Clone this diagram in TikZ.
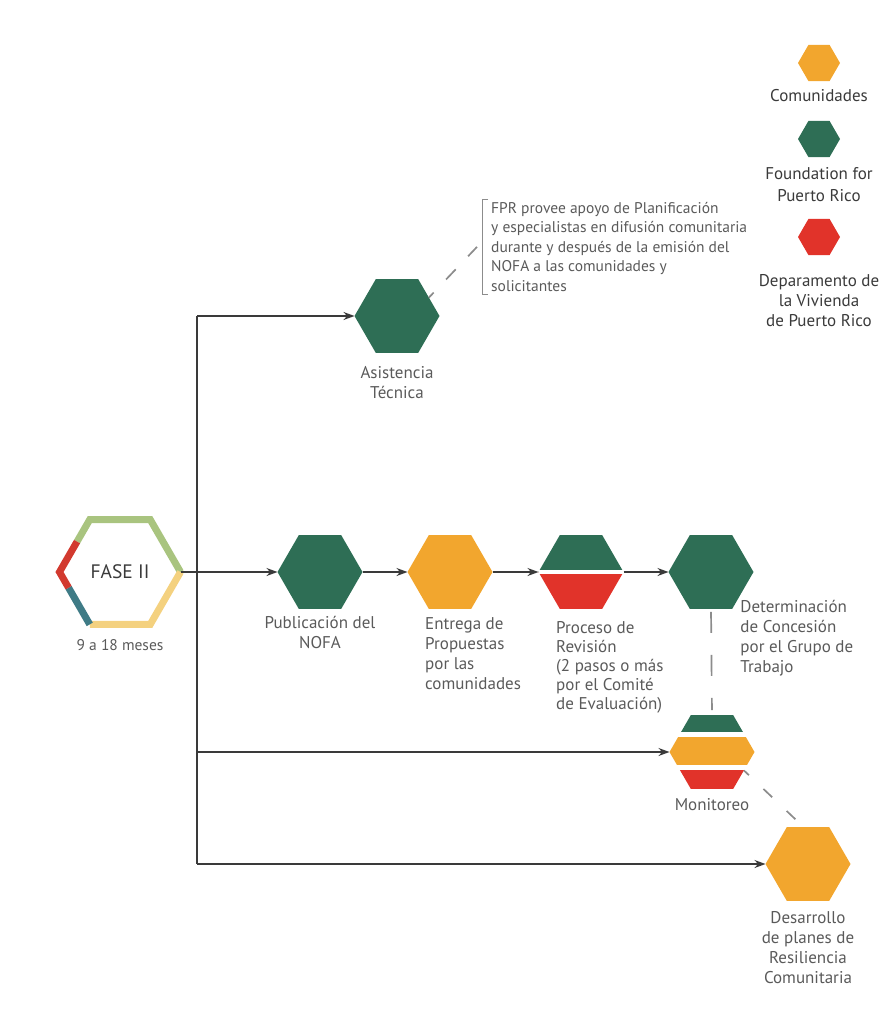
\documentclass[tikz,border=0pt]{standalone}
\usepackage{fontspec}
\setmainfont{PT Sans}
\usetikzlibrary{shapes.geometric,positioning,calc,arrows.meta}

\definecolor{fprgreen}{HTML}{2E6E55}
\definecolor{comorange}{HTML}{F2A62E}
\definecolor{vivred}{HTML}{E1332A}
\definecolor{faselime}{HTML}{A9C47F}
\definecolor{fasesand}{HTML}{F4D17F}
\definecolor{faseteal}{HTML}{3F7B86}
\definecolor{fasered}{HTML}{D23A2F}
\definecolor{txtgray}{HTML}{5A5A5A}
\definecolor{linegray}{HTML}{3A3A3A}
\definecolor{dashgray}{HTML}{8C8C8C}

\tikzset{
  hexa/.style={regular polygon, regular polygon sides=6,
    minimum size=85pt, inner sep=0pt, outer sep=0pt},
  lbl/.style={text=txtgray, font=\fontsize{17}{20}\selectfont, inner sep=0pt},
  leglbl/.style={text=linegray, font=\fontsize{17}{22}\selectfont, inner sep=0pt, align=center},
  flow/.style={draw=linegray, line width=1.3pt},
  arr/.style={flow, -{Stealth[length=11pt,width=8pt]}},
  dashlink/.style={draw=dashgray, line width=1.7pt},
  faseside/.style={line width=7pt},
}

\begin{document}
\begin{tikzpicture}[x=1pt,y=-1pt]
\useasboundingbox (0,0) rectangle (886,1022);

% phase hexagon
\node (fase) [hexa, minimum size=121pt, text=linegray, font=\fontsize{19.5}{24}\selectfont] at (120,572) {FASE II};
\draw[faseside, faselime] ($(fase.corner 3)!0.58!(fase.corner 2)$) -- (fase.corner 2) -- (fase.corner 1) -- (fase.corner 6);
\draw[faseside, fasesand] (fase.corner 6) -- (fase.corner 5) -- (fase.corner 4);
\draw[faseside, faseteal] (fase.corner 4) -- ($(fase.corner 3)!0.3!(fase.corner 4)$);
\draw[faseside, fasered] ($(fase.corner 3)!0.3!(fase.corner 4)$) -- (fase.corner 3) -- ($(fase.corner 3)!0.58!(fase.corner 2)$);
\node (fasetext) [lbl, font=\fontsize{15.5}{20}\selectfont, below=15pt of fase] {9 a 18 meses};

% legend
\node (legcom) [hexa, minimum size=42pt, fill=comorange] at (819,63) {};
\node (legcomtext) [leglbl, below=8pt of legcom] {Comunidades};
\node (legfpr) [hexa, minimum size=42pt, fill=fprgreen] at (819,139) {};
\node (legfprtext) [leglbl, below=10pt of legfpr] {Foundation for\\Puerto Rico};
\node (legviv) [hexa, minimum size=42pt, fill=vivred] at (819,237) {};
\node (legvivtext) [leglbl, font=\fontsize{17}{20}\selectfont, below=19pt of legviv] {Deparamento de\\la Vivienda\\de Puerto Rico};

% steps
\node (asis) [hexa, fill=fprgreen] at (397,316) {};
\node (asistext) [lbl, align=center, below=13pt of asis] {Asistencia\\Técnica};

\node (pub) [hexa, fill=fprgreen] at (320,572) {};
\node (pubtext) [lbl, align=center, below=7pt of pub] {Publicación del\\NOFA};

\node (entr) [hexa, fill=comorange] at (450,572) {};
\node (entrtext) [lbl, align=left, anchor=north west] at ([xshift=-25pt,yshift=-9pt]entr.south) {Entrega de\\Propuestas\\por las\\comunidades};

\node (proc) [hexa] at (581,572) {};
\fill[fprgreen] (proc.corner 3) -- (proc.corner 2) -- (proc.corner 1) -- (proc.corner 6) -- cycle;
\fill[vivred] (proc.corner 3) -- (proc.corner 4) -- (proc.corner 5) -- (proc.corner 6) -- cycle;
\draw[white, line width=4pt] (proc.corner 3) -- (proc.corner 6);
\node (proctext) [lbl, font=\fontsize{17}{19}\selectfont, align=left, anchor=north west] at ([xshift=-25pt,yshift=-12pt]proc.south) {Proceso de\\Revisión\\(2 pasos o más\\por el Comité\\de Evaluación)};

\node (det) [hexa, fill=fprgreen] at (711,572) {};
\node (dettext) [lbl, align=left, anchor=north west] at ([xshift=8pt,yshift=9pt]det.corner 5) {Determinación\\de Concesión\\por el Grupo de\\Trabajo};

\node (mon) [hexa] at (712,752) {};
\begin{scope}
  \clip (mon.corner 1) -- (mon.corner 2) -- (mon.corner 3) -- (mon.corner 4) -- (mon.corner 5) -- (mon.corner 6) -- cycle;
  \fill[fprgreen] ($(mon.center)+(-45,-40)$) rectangle ($(mon.center)+(45,-20)$);
  \fill[comorange] ($(mon.center)+(-45,-15)$) rectangle ($(mon.center)+(45,13)$);
  \fill[vivred] ($(mon.center)+(-45,18)$) rectangle ($(mon.center)+(45,40)$);
\end{scope}
\node (montext) [lbl, below=9pt of mon] {Monitoreo};

\node (des) [hexa, fill=comorange] at (808,864) {};
\node (destext) [lbl, align=center, below=10pt of des] {Desarrollo\\de planes de\\Resiliencia\\Comunitaria};

% note on technical support
\node (fprnote) [anchor=north west, align=left, text=txtgray, inner sep=0pt,
  font=\fontsize{15.5}{19.5}\selectfont] at (491,202) {FPR provee apoyo de Planificación\\y especialistas en difusión comunitaria\\durante y después de la emisión del\\NOFA a las comunidades y\\solicitantes};
\draw[dashgray, line width=1pt] ([xshift=-3pt,yshift=3pt]fprnote.north west) -- ++(-6,0)
  -- ([xshift=-9pt,yshift=-3pt]fprnote.south west) -- ++(6,0);

% connectors
\coordinate (ttop) at (197,316);
\coordinate (tbot) at (197,864);
\coordinate (tmon) at (mon.west -| ttop);
\draw[flow, line cap=square] (ttop) -- (tbot);
\draw[arr] (ttop) -- (asis.west);
\draw[arr] (fase.corner 6) -- (pub.west);
\draw[arr] (pub.east) -- (entr.west);
\draw[arr] (entr.east) -- (proc.west);
\draw[arr] (proc.east) -- (det.west);
\draw[arr] (tmon) -- (mon.west);
\draw[arr] (tbot) -- (des.west);

\draw[dashlink, dash pattern=on 14pt off 18pt, dash phase=7pt] ($(asis.corner 1)!0.5!(asis.corner 6)$) -- ([xshift=-14pt]fprnote.west);
\draw[dashlink, dash pattern=on 21pt off 22pt, shorten <=3pt, shorten >=5pt] (det.south) -- (mon.north);
\draw[dashlink, dash pattern=on 12pt off 20pt, dash phase=5pt] ($(mon.corner 5)!0.5!(mon.corner 6)$) -- ($(des.corner 2)!0.4!(des.corner 1)$);
\end{tikzpicture}
\end{document}
